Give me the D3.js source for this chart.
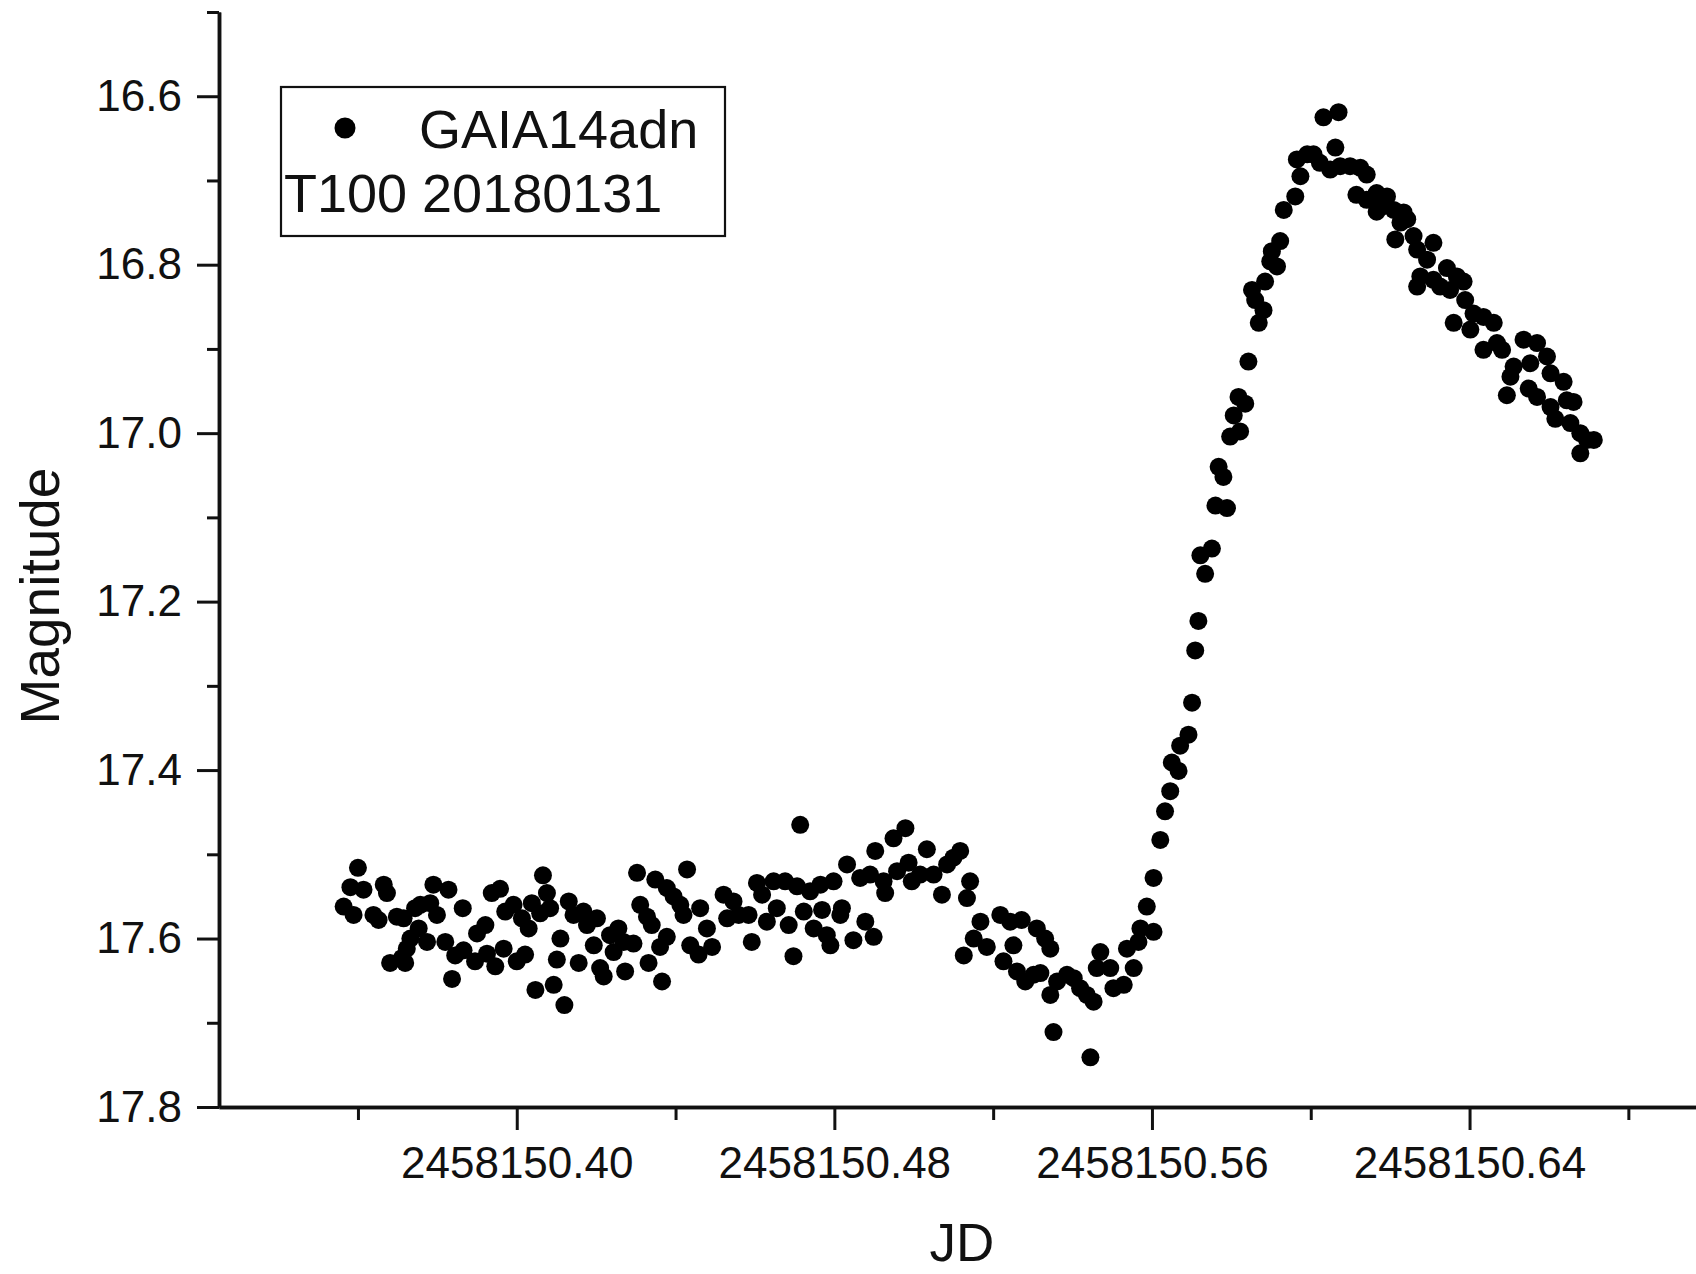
<!DOCTYPE html>
<html>
<head>
<meta charset="utf-8">
<script src="https://cdn.jsdelivr.net/npm/d3@7"></script>
<style>
    body { margin: 0; background: #fff; }
    text { font-family: "Liberation Sans", Arial, sans-serif; fill: #111; }
</style>
</head>
<body>
<div id="chart"></div>
<script>

// JD values are stored as the fraction of the day after jdBase
var jdBase = 2458150;

// [jd fraction, magnitude]
var preOutburst = [
    [.3600, 17.516], [.3581, 17.539], [.3614, 17.542], [.3564, 17.562], [.3589, 17.572], [.3665, 17.536], [.3673, 17.546], [.3639, 17.572],
    [.3652, 17.578], [.3698, 17.574], [.3715, 17.576], [.3744, 17.564], [.3757, 17.560], [.3790, 17.536], [.3828, 17.542], [.3782, 17.558],
    [.3799, 17.572], [.3753, 17.588], [.3774, 17.604], [.3732, 17.600], [.3723, 17.612], [.3711, 17.623], [.3681, 17.629], [.3719, 17.629],
    [.3820, 17.604], [.3837, 17.648], [.3864, 17.564], [.3845, 17.620], [.3866, 17.614], [.3900, 17.594], [.3921, 17.584], [.3895, 17.627],
    [.3925, 17.618], [.3946, 17.633], [.3937, 17.546], [.3958, 17.541], [.3971, 17.568], [.3992, 17.560], [.3967, 17.612], [.4000, 17.627],
    [.4021, 17.619], [.4013, 17.576], [.4030, 17.588], [.4038, 17.558], [.4059, 17.570], [.4084, 17.564], [.4066, 17.525], [.4076, 17.546],
    [.4110, 17.600], [.4101, 17.625], [.4047, 17.661], [.4093, 17.655], [.4120, 17.679], [.4131, 17.556], [.4143, 17.572], [.4168, 17.568],
    [.4177, 17.584], [.4202, 17.576], [.4156, 17.629], [.4194, 17.608], [.4210, 17.635], [.4219, 17.645], [.4235, 17.596], [.4256, 17.588],
    [.4244, 17.616], [.4269, 17.604], [.4294, 17.606], [.4273, 17.639], [.4303, 17.522], [.4349, 17.530], [.4311, 17.560], [.4328, 17.574],
    [.4340, 17.584], [.4332, 17.629], [.4366, 17.651], [.4378, 17.598], [.4361, 17.610], [.4378, 17.540], [.4395, 17.550], [.4412, 17.560],
    [.4420, 17.572], [.4429, 17.518], [.4462, 17.564], [.4479, 17.588], [.4437, 17.608], [.4458, 17.619], [.4492, 17.610], [.4521, 17.548],
    [.4546, 17.556], [.4530, 17.576], [.4559, 17.572],
    [.4714, 17.465], [.4592, 17.604], [.4605, 17.534], [.4618, 17.548], [.4647, 17.532], [.4676, 17.532], [.4706, 17.538], [.4584, 17.572],
    [.4630, 17.580], [.4655, 17.564], [.4685, 17.584], [.4697, 17.621], [.4723, 17.568], [.4739, 17.544], [.4765, 17.536], [.4748, 17.588],
    [.4781, 17.596], [.4790, 17.608], [.4769, 17.566], [.4815, 17.572], [.4819, 17.564], [.4848, 17.602], [.4878, 17.580], [.4899, 17.598],
    [.4798, 17.532], [.4832, 17.512], [.4865, 17.528], [.4903, 17.496], [.4890, 17.524], [.4924, 17.532], [.4928, 17.546], [.4949, 17.481],
    [.4979, 17.469], [.4958, 17.520], [.4987, 17.510], [.4995, 17.532], [.5016, 17.524], [.5033, 17.494], [.5050, 17.524], [.5071, 17.548],
    [.5084, 17.512], [.5100, 17.504], [.5117, 17.496], [.5142, 17.532], [.5134, 17.552]
];

var dip = [
    [.5126, 17.620], [.5151, 17.600], [.5168, 17.580], [.5184, 17.610], [.5218, 17.572], [.5243, 17.580], [.5272, 17.578], [.5226, 17.627],
    [.5251, 17.608], [.5260, 17.639], [.5281, 17.651], [.5302, 17.643], [.5319, 17.641], [.5310, 17.588], [.5331, 17.600], [.5344, 17.612],
    [.5344, 17.667], [.5361, 17.651], [.5386, 17.643], [.5403, 17.647], [.5419, 17.659], [.5436, 17.667], [.5453, 17.675], [.5352, 17.711],
    [.5445, 17.741], [.5470, 17.616], [.5461, 17.635], [.5495, 17.635], [.5503, 17.659], [.5529, 17.655], [.5537, 17.612], [.5554, 17.635],
    [.5566, 17.604]
];

var rise = [
    [.5571, 17.588], [.5587, 17.562], [.5604, 17.592], [.5604, 17.528], [.5621, 17.483], [.5633, 17.449], [.5646, 17.425], [.5650, 17.391],
    [.5667, 17.401], [.5671, 17.371], [.5692, 17.358], [.5701, 17.320], [.5709, 17.258], [.5717, 17.223], [.5734, 17.167], [.5722, 17.145],
    [.5751, 17.137], [.5760, 17.086], [.5789, 17.089], [.5768, 17.040], [.5780, 17.052], [.5797, 17.004], [.5822, 16.998], [.5806, 16.979],
    [.5818, 16.957], [.5835, 16.965], [.5843, 16.915], [.5852, 16.830], [.5860, 16.842], [.5881, 16.854], [.5869, 16.869], [.5885, 16.820],
    [.5902, 16.784], [.5898, 16.796], [.5915, 16.802], [.5923, 16.772], [.5932, 16.735], [.5961, 16.719], [.5974, 16.695], [.5965, 16.675],
    [.5991, 16.669], [.6007, 16.669]
];

var decline = [
    [.6032, 16.625], [.6070, 16.619], [.6062, 16.661], [.6023, 16.679], [.6049, 16.687], [.6074, 16.683], [.6099, 16.683], [.6125, 16.685],
    [.6141, 16.693], [.6115, 16.717], [.6141, 16.723], [.6166, 16.715], [.6192, 16.719], [.6179, 16.731], [.6166, 16.737], [.6209, 16.735],
    [.6234, 16.738], [.6243, 16.746], [.6226, 16.750], [.6213, 16.770], [.6259, 16.766], [.6268, 16.782], [.6309, 16.774], [.6293, 16.794],
    [.6276, 16.814], [.6268, 16.826], [.6309, 16.818], [.6343, 16.804], [.6368, 16.814], [.6385, 16.820], [.6326, 16.826], [.6351, 16.830],
    [.6389, 16.842], [.6410, 16.858], [.6360, 16.869], [.6402, 16.877], [.6435, 16.862], [.6461, 16.869], [.6435, 16.901], [.6469, 16.893],
    [.6482, 16.901], [.6536, 16.889], [.6570, 16.893], [.6595, 16.909], [.6511, 16.921], [.6503, 16.933], [.6494, 16.955], [.6553, 16.917],
    [.6549, 16.947], [.6570, 16.957], [.6604, 16.929], [.6637, 16.939], [.6604, 16.969], [.6616, 16.983], [.6645, 16.961], [.6662, 16.963],
    [.6654, 16.988], [.6679, 17.000], [.6696, 17.008], [.6713, 17.008], [.6679, 17.024]
];

var xMajorTicks = [.40, .48, .56, .64];
var xMinorTicks = [.36, .44, .52, .60, .68];
var yMajorTicks = [16.6, 16.8, 17.0, 17.2, 17.4, 17.6, 17.8];
var yMinorTicks = [16.5, 16.7, 16.9, 17.1, 17.3, 17.5, 17.7];

var seriesName = "GAIA14adn";
var legendNote = "T100 20180131";


var width = 1696, height = 1274;
var plot = { left: 219, top: 12, bottom: 1107 };

var svg = d3.select("#chart").append("svg")
    .attr("width", width)
    .attr("height", height)
    .style("display", "block");

// x runs past the right edge, the axis line is cut there
var xScale = d3.scaleLinear()
    .domain([jdBase + .325, jdBase + .70])
    .range([plot.left, plot.left + 0.375 * 3970]);

// magnitudes: brighter at the top
var yScale = d3.scaleLinear()
    .domain([16.5, 17.8])
    .range([plot.top, plot.bottom]);

function styleAxis(g) {
    g.selectAll("path.domain").attr("stroke", "#111").attr("stroke-width", 3.5);
    g.selectAll(".tick line").attr("stroke", "#111").attr("stroke-width", 3);
    g.selectAll(".tick text")
        .attr("fill", "#111")
        .style("font-family", "'Liberation Sans', Arial, sans-serif")
        .style("font-size", "44px");
}

// x axis: major ticks with labels, then the short minor ticks
var xAxisG = svg.append("g").attr("transform", "translate(0," + plot.bottom + ")");
xAxisG.append("g")
    .call(d3.axisBottom(xScale)
        .tickValues(xMinorTicks.map(function (d) { return jdBase + d; }))
        .tickSize(13).tickSizeOuter(0).tickFormat(""))
    .call(styleAxis);
xAxisG.append("g")
    .call(d3.axisBottom(xScale)
        .tickValues(xMajorTicks.map(function (d) { return jdBase + d; }))
        .tickSize(23).tickSizeOuter(0).tickPadding(17)
        .tickFormat(d3.format(".2f")))
    .call(styleAxis);

// y axis
var yAxisG = svg.append("g").attr("transform", "translate(" + plot.left + ",0)");
yAxisG.append("g")
    .call(d3.axisLeft(yScale).tickValues(yMinorTicks).tickSize(12).tickSizeOuter(0).tickFormat(""))
    .call(styleAxis);
yAxisG.append("g")
    .call(d3.axisLeft(yScale).tickValues(yMajorTicks).tickSize(22).tickSizeOuter(0).tickPadding(15)
        .tickFormat(d3.format(".1f")))
    .call(styleAxis);

// axis titles
svg.append("text")
    .attr("x", 962)
    .attr("y", 1261)
    .attr("text-anchor", "middle")
    .style("font-size", "53px")
    .text("JD");

svg.append("text")
    .attr("transform", "translate(59,596) rotate(-90)")
    .attr("text-anchor", "middle")
    .style("font-size", "55px")
    .text("Magnitude");

// the light curve, all segments drawn as plain black dots
var points = preOutburst.concat(dip, rise, decline);

svg.append("g").selectAll("circle")
    .data(points)
    .enter().append("circle")
    .attr("cx", function (d) { return xScale(jdBase + d[0]); })
    .attr("cy", function (d) { return yScale(d[1]); })
    .attr("r", 9)
    .attr("fill", "#000");

// legend box
var legend = svg.append("g");
legend.append("rect")
    .attr("x", 281).attr("y", 87)
    .attr("width", 444).attr("height", 149)
    .attr("fill", "#fff")
    .attr("stroke", "#111")
    .attr("stroke-width", 2.2);
legend.append("circle")
    .attr("cx", 345).attr("cy", 128)
    .attr("r", 10.5)
    .attr("fill", "#000");
legend.append("text")
    .attr("x", 419).attr("y", 148)
    .style("font-size", "54px")
    .text(seriesName);
legend.append("text")
    .attr("x", 284).attr("y", 212)
    .style("font-size", "54px")
    .text(legendNote);

</script>
</body>
</html>
